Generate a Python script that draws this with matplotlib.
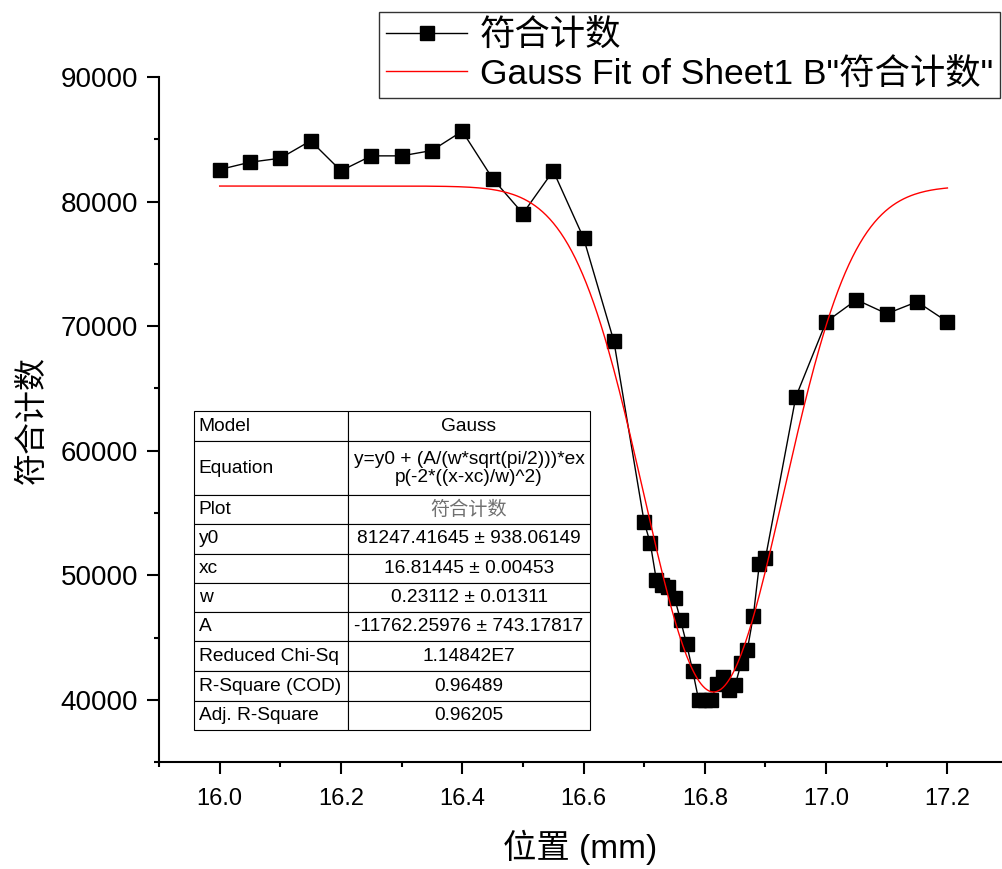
import numpy as np
import matplotlib
matplotlib.use("Agg")
import matplotlib.pyplot as plt
from matplotlib.ticker import MultipleLocator, FormatStrFormatter
from matplotlib.table import Table

plt.rcParams['font.family'] = ['Liberation Sans', 'Noto Sans CJK SC', 'DejaVu Sans']

# 数据
pos = [16.00, 16.05, 16.10, 16.15, 16.20, 16.25, 16.30, 16.35, 16.40, 16.45,
       16.50, 16.55, 16.60, 16.65,
       16.70, 16.71, 16.72, 16.73, 16.74, 16.75, 16.76, 16.77, 16.78, 16.79,
       16.80, 16.81, 16.82, 16.83, 16.84, 16.85, 16.86, 16.87, 16.88, 16.89, 16.90,
       16.95, 17.00, 17.05, 17.10, 17.15, 17.20]
counts = [82570, 83160, 83480, 84880, 82470, 83670, 83670, 84100, 85650, 81850,
          79040, 82470, 77080, 68800,
          54270, 52600, 49650, 49210, 49080, 48210, 46400, 44470, 42330, 39960,
          39960, 39960, 41270, 41870, 40830, 41210, 42950, 44000, 46770, 50950, 51400,
          64320, 70350, 72120, 71000, 71960, 70350]

# Gauss 拟合参数 (表中读出)
y0 = 81247.41645
xc = 16.81445
w = 0.23112
A = -11762.25976

tbl_names = ['Model', 'Equation', 'Plot', 'y0', 'xc', 'w', 'A',
             'Reduced Chi-Sq', 'R-Square (COD)', 'Adj. R-Square']
tbl_values = ['Gauss', 'y=y0 + (A/(w*sqrt(pi/2)))*ex\np(-2*((x-xc)/w)^2)', '符合计数',
              '81247.41645 ± 938.06149', '16.81445 ± 0.00453', '0.23112 ± 0.01311',
              '-11762.25976 ± 743.17817', '1.14842E7', '0.96489', '0.96205']

xfit = np.linspace(pos[0], pos[-1], 400)
yfit = y0 + (A / (w * np.sqrt(np.pi / 2))) * np.exp(-2 * ((xfit - xc) / w) ** 2)

fig = plt.figure(figsize=(10.02, 8.69), dpi=100)
ax = fig.add_axes([0.1587, 0.1228, 0.8413, 0.7886])

ax.plot(pos, counts, 'k-', marker='s', markersize=10.5, linewidth=1.0, label='符合计数')
ax.plot(xfit, yfit, color='#ff0000', linewidth=1.0, label='Gauss Fit of Sheet1 B"符合计数"')

ax.set_xlim(15.9, 17.29)
ax.set_ylim(35000, 90000)
ax.xaxis.set_major_locator(MultipleLocator(0.2))
ax.xaxis.set_minor_locator(MultipleLocator(0.1))
ax.yaxis.set_major_locator(MultipleLocator(10000))
ax.yaxis.set_minor_locator(MultipleLocator(5000))
ax.xaxis.set_major_formatter(FormatStrFormatter('%.1f'))

for s in ['top', 'right']:
    ax.spines[s].set_visible(False)
for s in ['left', 'bottom']:
    ax.spines[s].set_linewidth(1.5)

ax.tick_params(which='major', direction='out', length=8.6, width=1.5)
ax.tick_params(which='minor', direction='out', length=3.6, width=1.5)
ax.tick_params(axis='x', labelsize=17, pad=10)
ax.tick_params(axis='y', labelsize=20, pad=6.5)

ax.set_xlabel('位置 (mm)', fontsize=24, labelpad=14)
ax.set_ylabel('符合计数', fontsize=23, labelpad=9)

leg = ax.legend(loc='upper right', bbox_to_anchor=(1000 / 1002, 1 - 12 / 869),
                bbox_transform=fig.transFigure, borderaxespad=0,
                prop={'size': 25.5}, fancybox=False, edgecolor='black',
                handlelength=2.3, handletextpad=0.35, labelspacing=0.15, borderpad=0.2)
leg.get_frame().set_linewidth(1.0)

# 拟合结果表
row_h = [30, 54, 28, 30, 29, 29, 29, 30, 30, 29]
tb = Table(ax, bbox=[(194 - 159) / 843, (762 - 730) / 685, (590 - 194) / 843, (730 - 411) / 685])
for r, (name, val) in enumerate(zip(tbl_names, tbl_values)):
    c0 = tb.add_cell(r, 0, 154, row_h[r], text=name, loc='left', edgecolor='black', facecolor='white')
    c1 = tb.add_cell(r, 1, 242, row_h[r], text=val, loc='center', edgecolor='black', facecolor='white')
    c0.PAD = 0.03
    c0.set_linewidth(0.8)
    c1.set_linewidth(0.8)
    c1.get_text().set_linespacing(1.05)
    if name == 'Plot':
        c1.get_text().set_color('#707070')
tb.auto_set_font_size(False)
tb.set_fontsize(13.8)
ax.add_table(tb)

fig.savefig('out.png', dpi=100)
